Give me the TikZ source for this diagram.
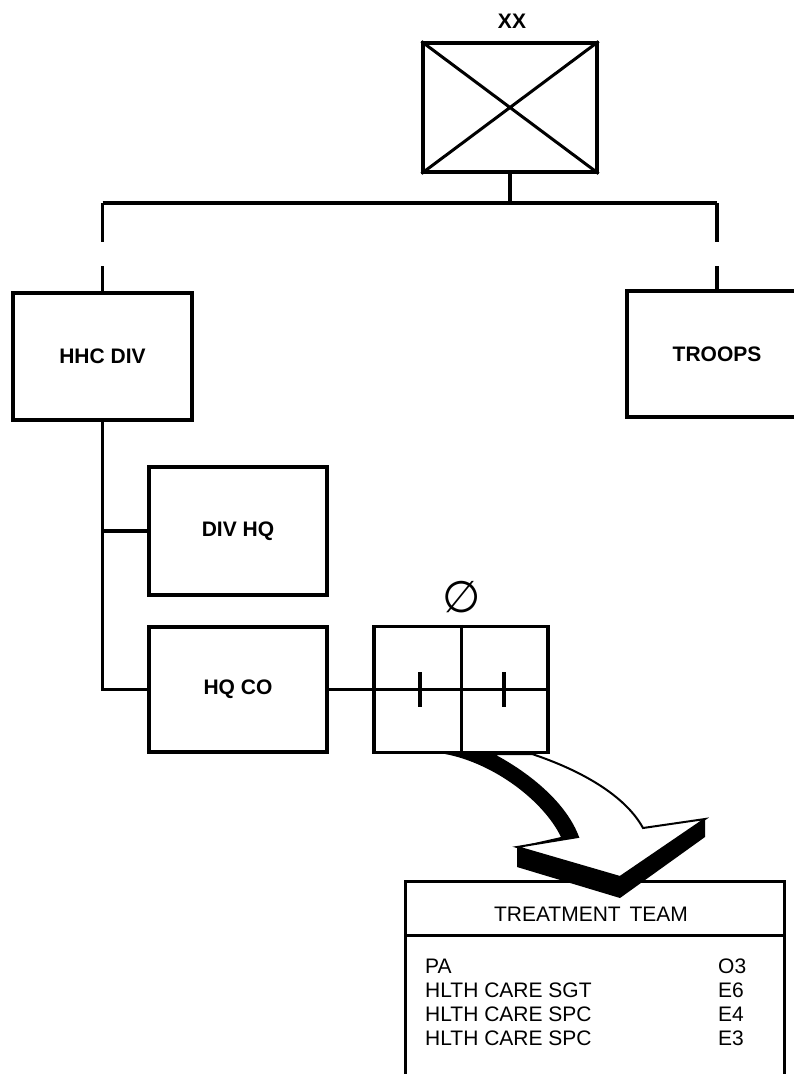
\documentclass[tikz,border=0pt]{standalone}
\usepackage{fontspec}
\setmainfont{Liberation Sans}
\newfontfamily\symfont{DejaVu Sans}
\begin{document}
\begin{tikzpicture}[x=1pt,y=-1pt,
  box/.style={draw,line width=3.2pt,inner sep=0pt,font=\fontsize{21}{24}\selectfont\bfseries},
  conn/.style={line width=3.2pt},
  tick/.style={line width=3.6pt},
  row/.style={anchor=west,inner sep=0pt,font=\fontsize{21}{24}\selectfont}]
\useasboundingbox (0,0) rectangle (793,1074);
% top unit
\node[box,minimum width=174pt,minimum height=129pt] (xx) at (510,107.5) {};
\node[font=\fontsize{21}{24}\selectfont\bfseries] (xxl) at (512,21) {XX};
\draw[line width=3pt] (xx.north west) -- (xx.south east) (xx.north east) -- (xx.south west);
% boxes
\node[box,minimum width=179pt,minimum height=127pt] (hhc) at (102.5,356.5) {HHC DIV};
\node[box,minimum width=180pt,minimum height=126pt] (troops) at (717,354) {TROOPS};
\node[box,minimum width=178pt,minimum height=128pt] (divhq) at (238,531) {DIV HQ};
\node[box,minimum width=178pt,minimum height=125pt] (hqco) at (238,689.5) {HQ CO};
\node[draw,line width=3.2pt,minimum width=174pt,minimum height=126pt,inner sep=0pt] (plt) at (461,689.5) {};
\node[inner sep=0pt,font=\fontsize{44}{48}\symfont] (phi) at (462,597) {∅};
% bus
\coordinate (bus) at (510,203);
\draw[conn] (xx.south) -- (bus);
\draw[conn] (hhc.north |- bus) -- (troops.north |- bus);
\draw[conn] (hhc.north |- bus) -- ++(0,39);
\draw[conn] (hhc.north) -- ++(0,-25);
\draw[conn] (troops.north |- bus) -- ++(0,39);
\draw[conn] (troops.north) -- ++(0,-23);
% hhc tree
\draw[conn] (hhc.south) -- (hhc.south |- hqco.west) -- (hqco.west);
\draw[conn] (hhc.south |- divhq.west) -- (divhq.west);
\draw[conn] (hqco.east) -- (plt.east);
\draw[line width=3pt] (plt.north) -- (plt.south);
\draw[tick] ([xshift=-41pt,yshift=17.5pt]plt.center) -- ++(0,35);
\draw[tick] ([xshift=43pt,yshift=17.5pt]plt.center) -- ++(0,35);
% treatment team box
\coordinate (tbl) at (405,1080);
\coordinate (ttl) at (405,881);
\coordinate (ttr) at (784,881);
\coordinate (tbr) at (784,1080);
\draw[line width=3pt] (tbl) -- (ttl) -- (ttr) -- (tbr);
\draw[line width=3pt] (405,935) -- (784,935);
\node[inner sep=0pt,font=\fontsize{21}{24}\selectfont] (tt) at (591,914) {TREATMENT\hspace{3pt} TEAM};
\node[row] (r1) at (425,966) {PA};
\node[row] (r2) at (425,990) {HLTH CARE SGT};
\node[row] (r3) at (425,1014) {HLTH CARE SPC};
\node[row] (r4) at (425,1038) {HLTH CARE SPC};
\node[row] (g1) at (718,966) {O3};
\node[row] (g2) at (718,990) {E6};
\node[row] (g3) at (718,1014) {E4};
\node[row] (g4) at (718,1038) {E3};
% big arrow: shadow then face
\fill[black] (445,754) .. controls (493,763) and (543,800) .. (561,837)
  -- (517,847) -- (517,867) -- (620,898) -- (705,837) -- (705,819)
  -- (643,828) .. controls (625,795) and (580,770) .. (532,754) -- cycle;
\filldraw[fill=white,draw=black,line width=2pt,line join=miter]
  (492,754) .. controls (532,775) and (566,805) .. (578,837)
  -- (517,847) -- (620,877) -- (705,819) -- (643,828)
  .. controls (625,795) and (580,770) .. (532,754) -- cycle;
\end{tikzpicture}
\end{document}
